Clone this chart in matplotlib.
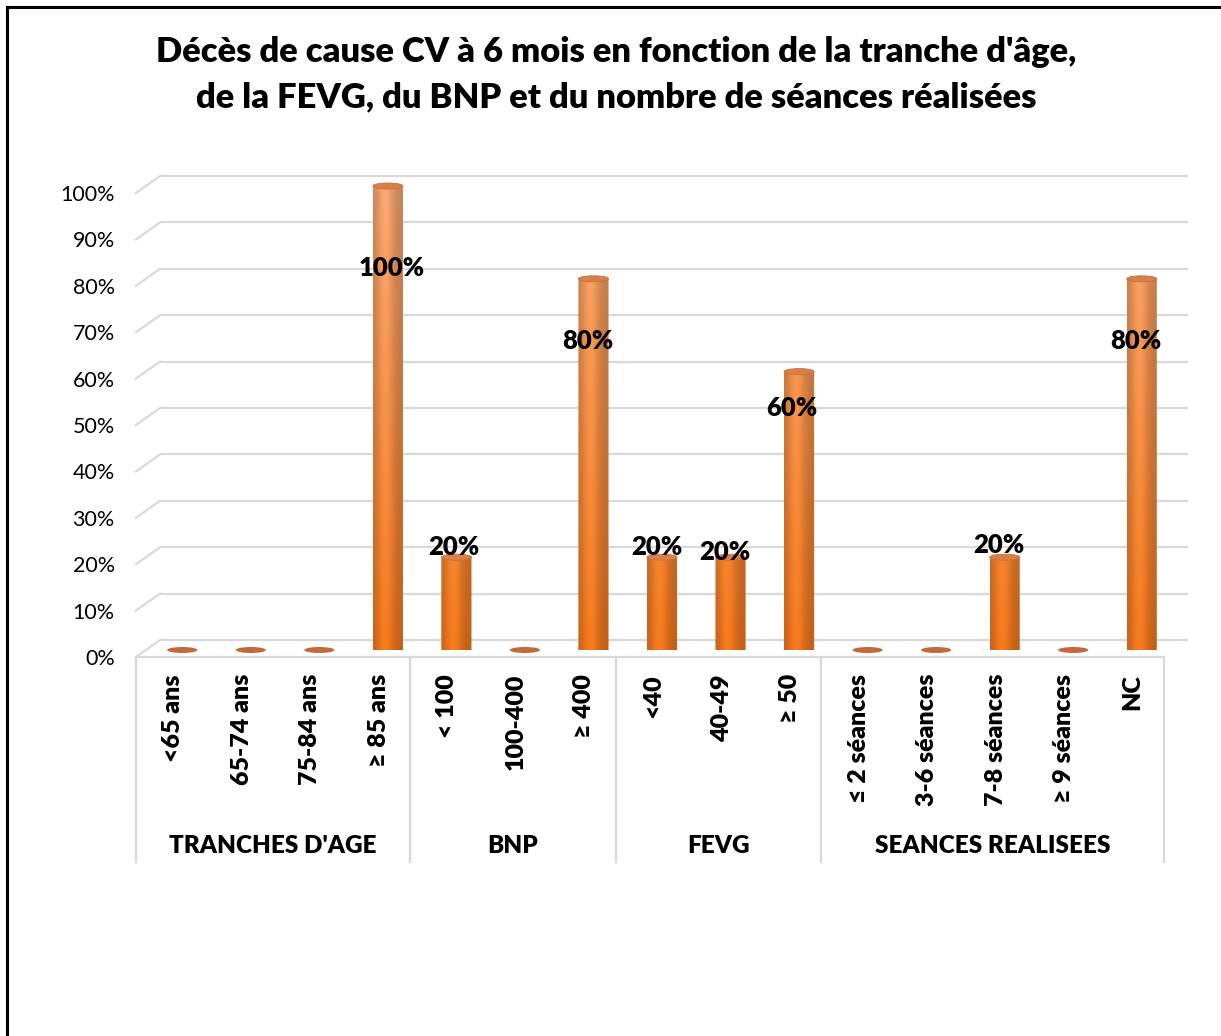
import matplotlib
matplotlib.use("Agg")
import matplotlib.pyplot as plt
import matplotlib.transforms as mtrans
import numpy as np
from matplotlib.patches import Ellipse, PathPatch
from matplotlib.path import Path
from matplotlib.lines import Line2D

# data
categories = ["<65 ans", "65-74 ans", "75-84 ans", "≥ 85 ans",
              "< 100", "100-400", "≥ 400",
              "<40", "40-49", "≥ 50",
              "≤ 2 séances", "3-6 séances", "7-8 séances", "≥ 9 séances", "NC"]
values = [0, 0, 0, 100, 20, 0, 80, 20, 20, 60, 0, 0, 20, 0, 80]
groups = ["TRANCHES D'AGE", "BNP", "FEVG", "SEANCES REALISEES"]
group_sizes = [4, 3, 3, 5]
yticks = list(range(0, 101, 10))
ytick_labels = ["%d%%" % t for t in yticks]
title_lines = ["Décès de cause CV à 6 mois en fonction de la tranche d'âge,",
               "de la FEVG, du BNP et du nombre de séances réalisées"]

# label placement (x offset px, y in %) for non-zero bars
label_pos = {3: (4, 82.3), 4: (-3, 22.2), 6: (-6, 66.6), 7: (-5, 22.2),
             8: (-6, 21.1), 9: (-7, 52.2), 12: (-6, 22.6), 14: (-6, 66.6)}

FONT = ["Lato", "DejaVu Sans"]
BOLD = "heavy"
plt.rcParams["font.family"] = FONT
W, H = 1221, 1036
GRID = "#d9d9d9"
fig = plt.figure(figsize=(W / 100, H / 100), dpi=100)
ax = fig.add_axes([148 / W, 1 - 650 / H, (1176 - 148) / W, (650 - 186) / H])
ax.set_facecolor("none")
n = len(categories)
PX = n / 1028.0        # data-x per pixel
PY = 100 / 464.0       # data-y per pixel
x0, x1 = -0.5, n - 0.5

# back wall gridlines and left-wall diagonals
for t in yticks:
    ax.plot([x0 + 12 * PX, x1 + 12 * PX], [t + 10 * PY] * 2, color=GRID, lw=1.6,
            clip_on=False, zorder=1, solid_capstyle="butt")
    ax.plot([x0 - 12 * PX, x0 + 12 * PX], [t - 7 * PY, t + 10 * PY], color=GRID,
            lw=1.6, clip_on=False, zorder=1)
# front floor edge
ax.plot([x0 - 12 * PX, x1 - 12 * PX], [-7 * PY] * 2, color=GRID, lw=1.6,
        clip_on=False, zorder=1, solid_capstyle="butt")

# cylinders
w = 0.44
h = 6 * PY
top_c = np.array([246, 166, 112]) / 255
bot_c = np.array([243, 120, 28]) / 255
nx, ny = 60, 200
u = np.linspace(0, 1, nx)
shade = 0.80 + 0.22 * np.exp(-((u - 0.4) / 0.28) ** 2)
for i, v in enumerate(values):
    if v <= 0:
        ax.add_patch(Ellipse((i, 0), w, h, fc="#c4693a", ec="none", zorder=3,
                             clip_on=False))
        continue
    yy = np.linspace(-h / 2, v, ny)
    f = np.clip(yy / 100, 0, 1)[:, None, None]
    col = bot_c + (top_c - bot_c) * f
    img = np.clip(col * shade[None, :, None], 0, 1)
    th = np.linspace(np.pi, 2 * np.pi, 40)
    verts = [(i - w / 2, v)] + list(zip(i + w / 2 * np.cos(th), h / 2 * np.sin(th))) + \
            [(i + w / 2, v), (i - w / 2, v)]
    codes = [Path.MOVETO] + [Path.LINETO] * (len(verts) - 2) + [Path.CLOSEPOLY]
    clip = PathPatch(Path(verts, codes), fc="none", ec="none", clip_on=False)
    ax.add_patch(clip)
    im = ax.imshow(img, extent=(i - w / 2, i + w / 2, -h / 2, v), origin="lower",
                   aspect="auto", interpolation="bilinear", zorder=3)
    im.set_clip_path(clip)
    ax.add_patch(Ellipse((i, v), w, h, fc="#d98049", ec="#c96f3b", lw=0.6, zorder=4,
                         clip_on=False))
    dx, ly = label_pos[i]
    ax.text(i + dx * PX, ly, "%d%%" % v, ha="center", va="center", fontsize=18.5,
            fontweight=BOLD, color="black", zorder=6)

ax.set_xlim(x0, x1)
ax.set_ylim(0, 100)

# y axis labels (front plane)
ax.set_xticks([])
ax.set_yticks(yticks)
ax.set_yticklabels(ytick_labels, fontsize=15.5)
ax.tick_params(axis="y", length=0, pad=24)
offset = mtrans.ScaledTranslation(0, -7 / 100, fig.dpi_scale_trans)
for lab in ax.get_yticklabels():
    lab.set_transform(lab.get_transform() + offset)
for sp in ax.spines.values():
    sp.set_visible(False)

# category labels
for i, c in enumerate(categories):
    ax.text(i - 9 * PX, -24 * PY, c, rotation=90, ha="center", va="top",
            fontsize=18, fontweight=BOLD, clip_on=False)

# group separators and labels
edges = np.concatenate([[0], np.cumsum(group_sizes)]) - 0.5
for e in edges:
    ax.plot([e - 12 * PX] * 2, [-7 * PY, -212 * PY], color=GRID, lw=1.6,
            clip_on=False, zorder=1)
for g, a, b in zip(groups, edges[:-1], edges[1:]):
    ax.text((a + b) / 2 - 12 * PX, -196 * PY, g, ha="center", va="center",
            fontsize=17.5, fontweight=BOLD, clip_on=False)

# title
fig.text(616 / W, 1 - 52 / H, title_lines[0], ha="center", va="center",
         fontsize=24.8, fontweight=BOLD)
fig.text(616 / W, 1 - 97 / H, title_lines[1], ha="center", va="center",
         fontsize=24.8, fontweight=BOLD)

# outer frame (left and top edges)
fig.add_artist(Line2D([7 / W, 7 / W], [0, 1 - 7 / H], transform=fig.transFigure,
                      color="black", lw=2.2))
fig.add_artist(Line2D([7 / W, 1], [1 - 7 / H, 1 - 7 / H], transform=fig.transFigure,
                      color="black", lw=2.2))

fig.savefig("out.png", dpi=100, facecolor="white")
